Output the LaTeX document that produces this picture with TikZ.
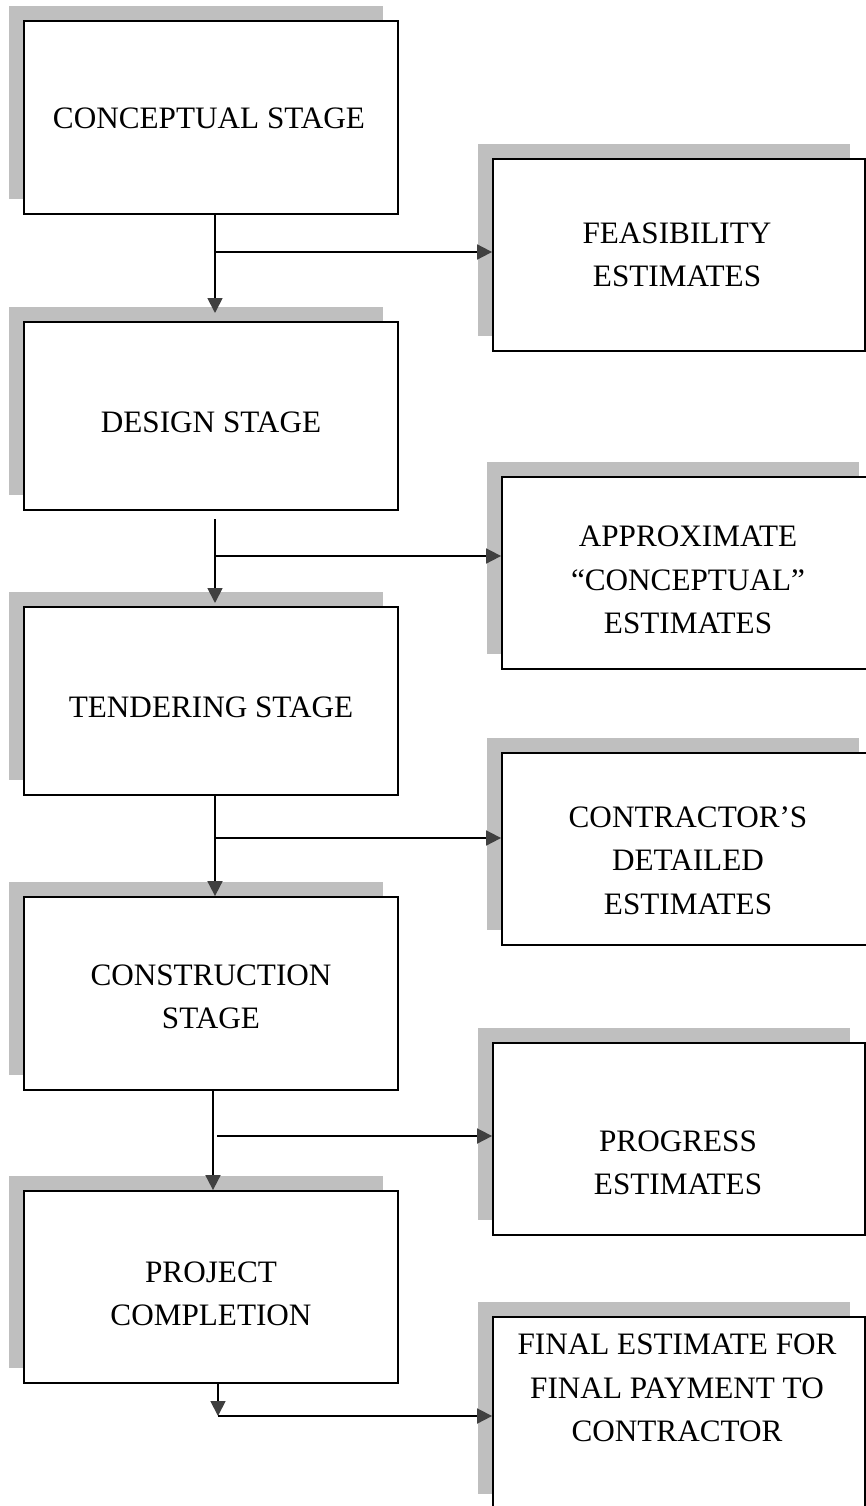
\documentclass[tikz,border=0pt]{standalone}
\usepackage{fontspec}
\setmainfont{Liberation Serif}
\usetikzlibrary{arrows.meta,shadows}
\definecolor{shadowgray}{RGB}{191,191,191}
\definecolor{tipgray}{RGB}{64,64,64}
\begin{document}
\begin{tikzpicture}[x=1pt,y=-1pt,
  box/.style={draw=black, line width=1.8pt, fill=white, rectangle, inner sep=0pt,
    general shadow={fill=shadowgray, shadow xshift=-15pt, shadow yshift=15pt}},
  lbox/.style={box, minimum width=374pt},
  rbox/.style={box, minimum width=372pt, minimum height=192pt},
  txt/.style={align=center, inner sep=0pt, font=\fontsize{31.2}{43.3}\selectfont},
  conn/.style={line width=1.8pt, draw=black},
  arr/.style={conn, -{Triangle[length=15pt,width=15pt,color=tipgray]}}
]
\useasboundingbox (0,0) rectangle (866,1506);

% left column
\node[lbox, minimum height=193pt] (c1) at (211,117.5) {};
\node[txt] (c1t) at (209,118) {CONCEPTUAL STAGE};
\node[lbox, minimum height=188pt] (c2) at (211,416) {};
\node[txt] (c2t) at (211,422) {DESIGN STAGE};
\node[lbox, minimum height=188pt] (c3) at (211,701) {};
\node[txt] (c3t) at (211,707) {TENDERING STAGE};
\node[lbox, minimum height=193pt] (c4) at (211,993.5) {};
\node[txt] (c4t) at (211,996.5) {CONSTRUCTION\\STAGE};
\node[lbox, minimum height=192pt] (c5) at (211,1287) {};
\node[txt] (c5t) at (211,1293.5) {PROJECT\\COMPLETION};

% right column
\node[rbox] (r1) at (679,255) {};
\node[txt] (r1t) at (677,255) {FEASIBILITY\\ESTIMATES};
\node[rbox] (r2) at (688,573) {};
\node[txt] (r2t) at (688,580) {APPROXIMATE\\“CONCEPTUAL”\\ESTIMATES};
\node[rbox] (r3) at (688,849) {};
\node[txt] (r3t) at (688,860.5) {CONTRACTOR’S\\DETAILED\\ESTIMATES};
\node[rbox] (r4) at (679,1139) {};
\node[txt] (r4t) at (678,1162.5) {PROGRESS\\ESTIMATES};
\node[rbox] (r5) at (679,1413) {};
\node[txt] (r5t) at (677,1388) {FINAL ESTIMATE FOR\\FINAL PAYMENT TO\\CONTRACTOR};

% connectors
\coordinate (j1) at (215,252);
\coordinate (t1) at (215,313);
\draw[arr] (j1 |- c1.south) -- (t1);
\draw[arr] (j1) -- (j1 -| r1.west);

\coordinate (s2) at (215,519);
\coordinate (j2) at (215,556);
\coordinate (t2) at (215,603);
\draw[arr] (s2) -- (t2);
\draw[arr] (j2) -- (j2 -| r2.west);

\coordinate (j3) at (215,838);
\draw[arr] (j3 |- c3.south) -- (j3 |- c4.north);
\draw[arr] (j3) -- (j3 -| r3.west);

\coordinate (j4) at (213,1136);
\coordinate (h4) at (217,1136);
\draw[arr] (j4 |- c4.south) -- (j4 |- c5.north);
\draw[arr] (h4) -- (h4 -| r4.west);

\coordinate (j5) at (218,1416);
\draw[arr] (j5 |- c5.south) -- (j5);
\draw[arr] (j5) -- (j5 -| r5.west);
\end{tikzpicture}
\end{document}
